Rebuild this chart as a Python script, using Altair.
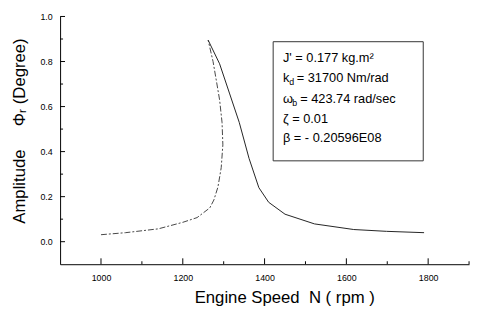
import altair as alt
import pandas as pd

# Ascending (dashed) branch: rpm, amplitude
up_rpm = [1000, 1060, 1140, 1200, 1235, 1266, 1276, 1286, 1294, 1298, 1296, 1290, 1282, 1274, 1262]
up_amp = [0.031, 0.040, 0.057, 0.086, 0.107, 0.150, 0.185, 0.243, 0.329, 0.430, 0.530, 0.630, 0.716, 0.800, 0.895]
# Descending (solid) branch
down_rpm = [1262, 1290, 1314, 1338, 1362, 1386, 1410, 1450, 1522, 1618, 1698, 1790]
down_amp = [0.895, 0.790, 0.660, 0.530, 0.370, 0.240, 0.175, 0.122, 0.079, 0.054, 0.046, 0.040]

x_ticks = [1000, 1200, 1400, 1600, 1800]
x_minor = [1100, 1300, 1500, 1700, 1900]
y_ticks = [0.0, 0.2, 0.4, 0.6, 0.8, 1.0]
y_minor = [0.1, 0.3, 0.5, 0.7, 0.9]

x_domain = [900, 1900]
y_domain = [-0.1, 1.0]

# annotation box (data coordinates) and text lines
box = pd.DataFrame({"rpm": [1421], "rpm2": [1788], "amp": [0.359], "amp2": [0.888]})
ann_x = 1445
ann_y = [0.815, 0.725, 0.634, 0.544, 0.458]

rows = []
for i, (r, a) in enumerate(zip(up_rpm, up_amp)):
    rows.append({"rpm": r, "amp": a, "branch": "up", "i": i})
for i, (r, a) in enumerate(zip(down_rpm, down_amp)):
    rows.append({"rpm": r, "amp": a, "branch": "down", "i": i})
curve = pd.DataFrame(rows)

xs = alt.Scale(domain=x_domain, nice=False, zero=False)
ys = alt.Scale(domain=y_domain, nice=False, zero=False)

FONT = "Liberation Sans"
NB = "\u00a0"

x_axis = alt.Axis(
    values=x_ticks, format="d", ticks=False, tickSize=0, grid=False,
    labelFontSize=9, labelFont=FONT, labelColor="black", labelPadding=10,
    domainColor="black", domainWidth=1,
    title="Engine Speed" + NB * 2 + "N ( rpm )", titleFont=FONT, titleFontSize=17,
    titleFontWeight="normal", titleColor="black",
    titleX=228, titleY=34, titleAlign="center", titleBaseline="middle")
y_axis = alt.Axis(
    values=y_ticks, format=".1f", ticks=False, tickSize=0, grid=False,
    labelFontSize=9, labelFont=FONT, labelColor="black", labelPadding=8,
    domainColor="black", domainWidth=1,
    title="Amplitude" + NB * 5 + "Φᵣ (Degree)", titleFont=FONT, titleFontSize=17,
    titleFontWeight="normal", titleColor="black",
    titleX=-41, titleY=116, titleAngle=270, titleAlign="center", titleBaseline="middle")

X = lambda: alt.X("rpm:Q", scale=xs, axis=x_axis)
Y = lambda: alt.Y("amp:Q", scale=ys, axis=y_axis)

up = alt.Chart(curve[curve.branch == "up"]).mark_line(
    color="#444", strokeWidth=1, strokeDash=[6, 2, 2, 2]
).encode(x=X(), y=Y(), order="i:O")

down = alt.Chart(curve[curve.branch == "down"]).mark_line(
    color="#222", strokeWidth=1
).encode(x=X(), y=Y(), order="i:O")

ytick = alt.Chart(pd.DataFrame({"amp": y_ticks})).mark_rule(color="black", strokeWidth=1).encode(
    y=Y(), x=alt.value(0), x2=alt.value(5))
yminor = alt.Chart(pd.DataFrame({"amp": y_minor})).mark_rule(color="black", strokeWidth=1).encode(
    y=Y(), x=alt.value(0), x2=alt.value(3))
xtick = alt.Chart(pd.DataFrame({"rpm": x_ticks})).mark_rule(color="black", strokeWidth=1).encode(
    x=X(), y=alt.value(252), y2=alt.value(246))
xminor = alt.Chart(pd.DataFrame({"rpm": x_minor})).mark_rule(color="black", strokeWidth=1).encode(
    x=X(), y=alt.value(252), y2=alt.value(249))

boxl = alt.Chart(box).mark_rect(fill=None, stroke="#333", strokeWidth=1).encode(
    x=X(), x2="rpm2", y=Y(), y2="amp2")

def txt(s, y, dx=0, dy=0, size=13):
    return alt.Chart(pd.DataFrame({"rpm": [ann_x], "amp": [y], "t": [s]})).mark_text(
        align="left", baseline="middle", font=FONT, fontSize=size, color="black", dx=dx, dy=dy
    ).encode(x=X(), y=Y(), text="t:N")

texts = [
    txt("J' = 0.177 kg.m²", ann_y[0]),
    txt("k", ann_y[1]),
    txt("d", ann_y[1], dx=6.5, dy=4, size=9),
    txt("= 31700 Nm/rad", ann_y[1], dx=14),
    txt("ω", ann_y[2]),
    txt("b", ann_y[2], dx=9.5, dy=4, size=9),
    txt("= 423.74 rad/sec", ann_y[2], dx=17.5),
    txt("ζ = 0.01", ann_y[3]),
    txt("β = - 0.20596E08", ann_y[4]),
]

chart = alt.layer(up, down, ytick, yminor, xtick, xminor, boxl, *texts).properties(
    width=416, height=252,
    autosize=alt.AutoSizeParams(type="none"),
    padding={"left": 53, "top": 6, "right": 3, "bottom": 47},
    background="white",
).configure_view(stroke=None)

chart.save("out.html", embed_options={"renderer": "svg", "actions": False})
